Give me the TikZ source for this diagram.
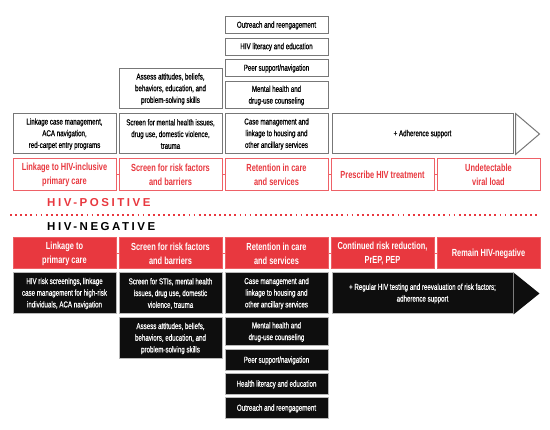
\documentclass[tikz,border=0pt]{standalone}
\usepackage{fontspec}
\setmainfont{Liberation Sans}[FakeStretch=0.72,UprightFeatures={FakeBold=0.6}]
\newfontfamily\spacedfont{Liberation Sans}[LetterSpace=22]
\usepackage{tikz}
\usetikzlibrary{arrows.meta}
\definecolor{hivRed}{HTML}{E8383F}
\definecolor{hivLine}{HTML}{EE6167}
\definecolor{hivGray}{HTML}{777777}
\definecolor{hivDark}{HTML}{0E0E0E}
\begin{document}
\begin{tikzpicture}[x=1pt,y=-1pt,
    infobox/.style={draw=hivGray,line width=1pt,fill=white,align=center,minimum width=103,inner sep=1pt,font=\fontsize{8.6}{11.7}\selectfont},
    blackbox/.style={draw=gray!55,line width=1pt,fill=hivDark,text=white,align=center,minimum width=103,inner sep=1pt,font=\fontsize{8.6}{11.7}\selectfont},
    stepout/.style={draw=hivLine,line width=1pt,fill=white,text=hivRed,align=center,minimum width=103,minimum height=32,inner sep=1pt,font=\bfseries\fontsize{10.3}{14}\selectfont},
    stepfill/.style={draw=hivRed!80!white,line width=1pt,fill=hivRed,text=white,align=center,minimum width=103,minimum height=31,inner sep=1pt,font=\bfseries\fontsize{10.3}{14}\selectfont},
    link/.style={hivLine,line width=1pt},
    separator/.style={hivRed,line width=1.8pt,dash pattern=on 1.8pt off 3.3pt},
    grouplabel/.style={anchor=west,inner sep=0pt,font=\spacedfont\bfseries\fontsize{11.5}{12}\selectfont}
]
  \useasboundingbox (0,0) rectangle (550,430);

  % HIV-positive: support services stacked above the steps
  \node[infobox,minimum height=17] at (276.5,25.5) (pOut) {Outreach and reengagement};
  \node[infobox,minimum height=17] at (276.5,47) (pLit) {HIV literacy and education};
  \node[infobox,minimum height=17] at (276.5,68.5) (pPeer) {Peer support/navigation};
  \node[infobox,minimum height=27] at (276.5,95.5) (pMent) {Mental health and\\drug-use counseling};
  \node[infobox,minimum height=40] at (170.5,89) (pAssess) {Assess attitudes, beliefs,\\behaviors, education, and\\problem-solving skills};
  \node[infobox,minimum height=40] at (64.5,134) (pLink) {Linkage case management,\\ACA navigation,\\red-carpet entry programs};
  \node[infobox,minimum height=40] at (170.5,134) (pScreen) {Screen for mental health issues,\\drug use, domestic violence,\\trauma};
  \node[infobox,minimum height=40] at (276.5,134) (pCase) {Case management and\\linkage to housing and\\other ancillary services};
  \node[infobox,minimum height=40,minimum width=181] at (422.5,134) (pAdh) {+ Adherence support};
  \draw[hivGray,line width=1pt,fill=white] ([xshift=2]pAdh.north east) -- ([xshift=26]pAdh.east) -- ([xshift=2]pAdh.south east) -- cycle;

  % HIV-positive steps
  \node[stepout] at (64.5,175) (pos1) {Linkage to HIV-inclusive\\primary care};
  \node[stepout] at (170.5,175) (pos2) {Screen for risk factors\\and barriers};
  \node[stepout] at (276.5,175) (pos3) {Retention in care\\and services};
  \node[stepout] at (382.5,175) (pos4) {Prescribe HIV treatment};
  \node[stepout] at (488.5,175) (pos5) {Undetectable\\viral load};
  \foreach \a/\b in {pos1/pos2,pos2/pos3,pos3/pos4,pos4/pos5}
    \draw[link] (\a) -- (\b);

  % Group labels and separator
  \node[grouplabel,text=hivRed] at (47,203) (posLabel) {HIV-POSITIVE};
  \draw[separator] (10,215) -- (538,215);
  \node[grouplabel,text=black] at (47,227) (negLabel) {HIV-NEGATIVE};

  % HIV-negative steps
  \node[stepfill] at (64.5,253.5) (neg1) {Linkage to\\primary care};
  \node[stepfill] at (170.5,253.5) (neg2) {Screen for risk factors\\and barriers};
  \node[stepfill] at (276.5,253.5) (neg3) {Retention in care\\and services};
  \node[stepfill] at (382.5,253.5) (neg4) {Continued risk reduction,\\PrEP, PEP};
  \node[stepfill] at (488.5,253.5) (neg5) {Remain HIV-negative};
  \foreach \a/\b in {neg1/neg2,neg2/neg3,neg3/neg4,neg4/neg5}
    \draw[link] (\a) -- (\b);

  % HIV-negative: support services stacked below the steps
  \node[blackbox,minimum height=41] at (64.5,293.5) (nLink) {HIV risk screenings, linkage\\case management for high-risk\\individuals, ACA navigation};
  \node[blackbox,minimum height=41] at (170.5,293.5) (nScreen) {Screen for STIs, mental health\\issues, drug use, domestic\\violence, trauma};
  \node[blackbox,minimum height=41] at (276.5,293.5) (nCase) {Case management and\\linkage to housing and\\other ancillary services};
  \node[blackbox,minimum height=41,minimum width=181] at (422.5,293.5) (nAdh) {+ Regular HIV testing and reevaluation of risk factors;\\adherence support};
  \fill[hivDark] (nAdh.north east) -- ([xshift=26]nAdh.east) -- (nAdh.south east) -- cycle;
  \node[blackbox,minimum height=41] at (170.5,338.5) (nAssess) {Assess attitudes, beliefs,\\behaviors, education, and\\problem-solving skills};
  \node[blackbox,minimum height=28] at (276.5,332) (nMent) {Mental health and\\drug-use counseling};
  \node[blackbox,minimum height=21] at (276.5,360.5) (nPeer) {Peer support/navigation};
  \node[blackbox,minimum height=21] at (276.5,384.5) (nLit) {Health literacy and education};
  \node[blackbox,minimum height=21] at (276.5,408.5) (nOut) {Outreach and reengagement};
\end{tikzpicture}
\end{document}
